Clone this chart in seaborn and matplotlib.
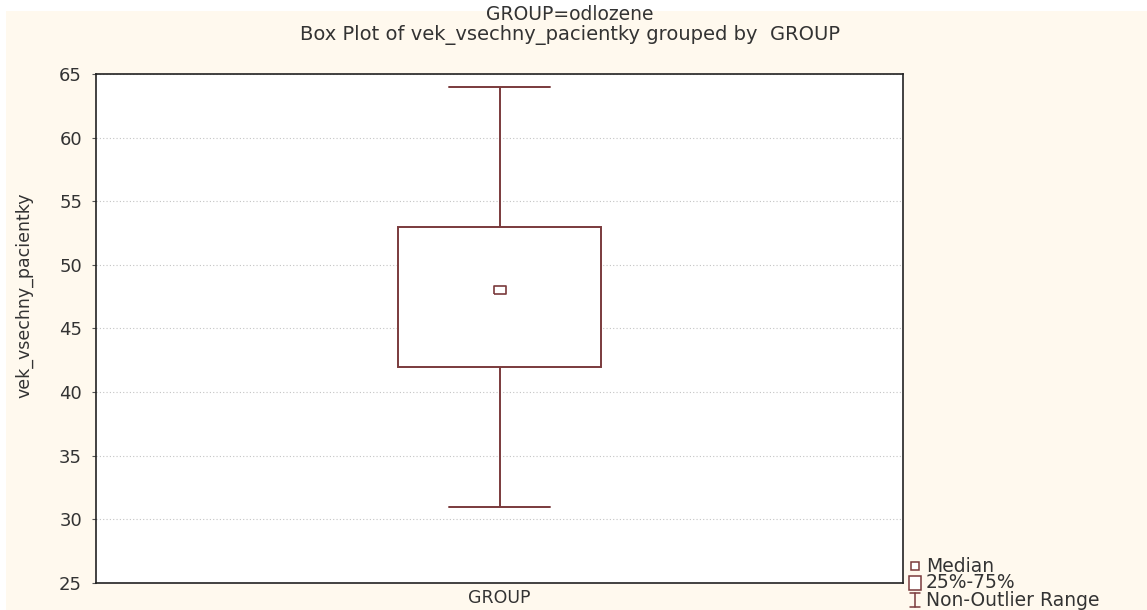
import matplotlib
matplotlib.use("Agg")
import matplotlib.pyplot as plt
import seaborn as sns
import pandas as pd
from matplotlib.patches import Rectangle
from matplotlib.lines import Line2D

# Five-number summary of patient age for the "odlozene" group
category = "GROUP"
age_summary = [31, 42, 48, 53, 64]   # min, Q1, median, Q3, max
median_age = 48
y_ticks = [25, 30, 35, 40, 45, 50, 55, 60, 65]

title_lines = ["GROUP=odlozene", "Box Plot of vek_vsechny_pacientky grouped by  GROUP"]
y_label = "vek_vsechny_pacientky"
legend_labels = ["Median", "25%-75%", "Non-Outlier Range"]

BOX_COLOR = "#7a3a3c"
BG = "#fff9ee"
TEXT = "#333333"
W, H = 1147, 610

sns.set_theme(style="white")
plt.rcParams["font.family"] = ["DejaVu Sans"]

fig = plt.figure(figsize=(W / 100, H / 100), dpi=100, facecolor="white")
fig.patches.append(Rectangle((6 / W, 0), 1, (H - 11) / H, transform=fig.transFigure,
                             facecolor=BG, edgecolor="none", zorder=-10))

def fx(px):
    return px / W

def fy(py):
    return 1 - py / H

ax = fig.add_axes([fx(96), fy(583), fx(903) - fx(96), fy(74) - fy(583)])
ax.set_facecolor("white")

df = pd.DataFrame({"group": [category] * len(age_summary), "age": age_summary})
sns.boxplot(data=df, x="group", y="age", ax=ax, whis=(0, 100), width=0.252,
            color="white", linecolor=BOX_COLOR, linewidth=1.4,
            medianprops={"visible": False})

# Median drawn as a small hollow rectangle
rect_marker = [(-1.5, -1), (1.5, -1), (1.5, 1), (-1.5, 1), (-1.5, -1)]
pos = [category].index(category)
ax.plot([pos], [median_age], marker=rect_marker, markersize=8, linestyle="none",
        markerfacecolor="white", markeredgecolor=BOX_COLOR, markeredgewidth=1.2, zorder=5)

ax.set_xlim(-0.5, 0.5)
ax.set_ylim(y_ticks[0], y_ticks[-1])
ax.set_yticks(y_ticks)
ax.set_xticks([pos])
ax.set_xticklabels([category])
ax.set_xlabel("")
ax.set_ylabel(y_label, fontsize=12.5, color=TEXT)
ax.yaxis.set_label_coords(-0.078, 0.566)
ax.tick_params(axis="y", which="both", left=True, length=3, width=0.8, color="#555555",
               labelsize=13, labelcolor=TEXT, pad=7)
ax.tick_params(axis="x", length=0, labelsize=12.5, labelcolor=TEXT, pad=4)
ax.yaxis.grid(True, linestyle=(0, (1, 2)), color="#c4c4c4", linewidth=0.8)
ax.set_axisbelow(True)
for sp in ax.spines.values():
    sp.set_color("#222222")
    sp.set_linewidth(1.2)

fig.text(0.497, fy(15), title_lines[0], ha="center", va="center", fontsize=13.5, color=TEXT)
fig.text(0.497, fy(35), title_lines[1], ha="center", va="center", fontsize=14, color=TEXT)

# Legend drawn in figure pixels
lx, tx = 915, 926
ys = [566, 583, 600]
fig.add_artist(Line2D([fx(lx)], [fy(ys[0])], marker="s", markersize=5.5, linestyle="none",
                      markerfacecolor="white", markeredgecolor=BOX_COLOR, markeredgewidth=1.1,
                      transform=fig.transFigure))
fig.add_artist(Rectangle((fx(lx - 6), fy(ys[1] + 7)), fx(12), 14 / H, transform=fig.transFigure,
                         facecolor="white", edgecolor=BOX_COLOR, linewidth=1.1))
for seg in ([(lx - 5, lx + 5), (ys[2] - 7, ys[2] - 7)],
            [(lx - 5, lx + 5), (ys[2] + 7, ys[2] + 7)],
            [(lx, lx), (ys[2] - 7, ys[2] + 7)]):
    fig.add_artist(Line2D([fx(v) for v in seg[0]], [fy(v) for v in seg[1]],
                          color=BOX_COLOR, linewidth=1.1, transform=fig.transFigure))
for label, y in zip(legend_labels, ys):
    fig.text(fx(tx), fy(y), label, ha="left", va="center", fontsize=13.5, color=TEXT)

fig.savefig("out.png", dpi=100, facecolor=fig.get_facecolor())
